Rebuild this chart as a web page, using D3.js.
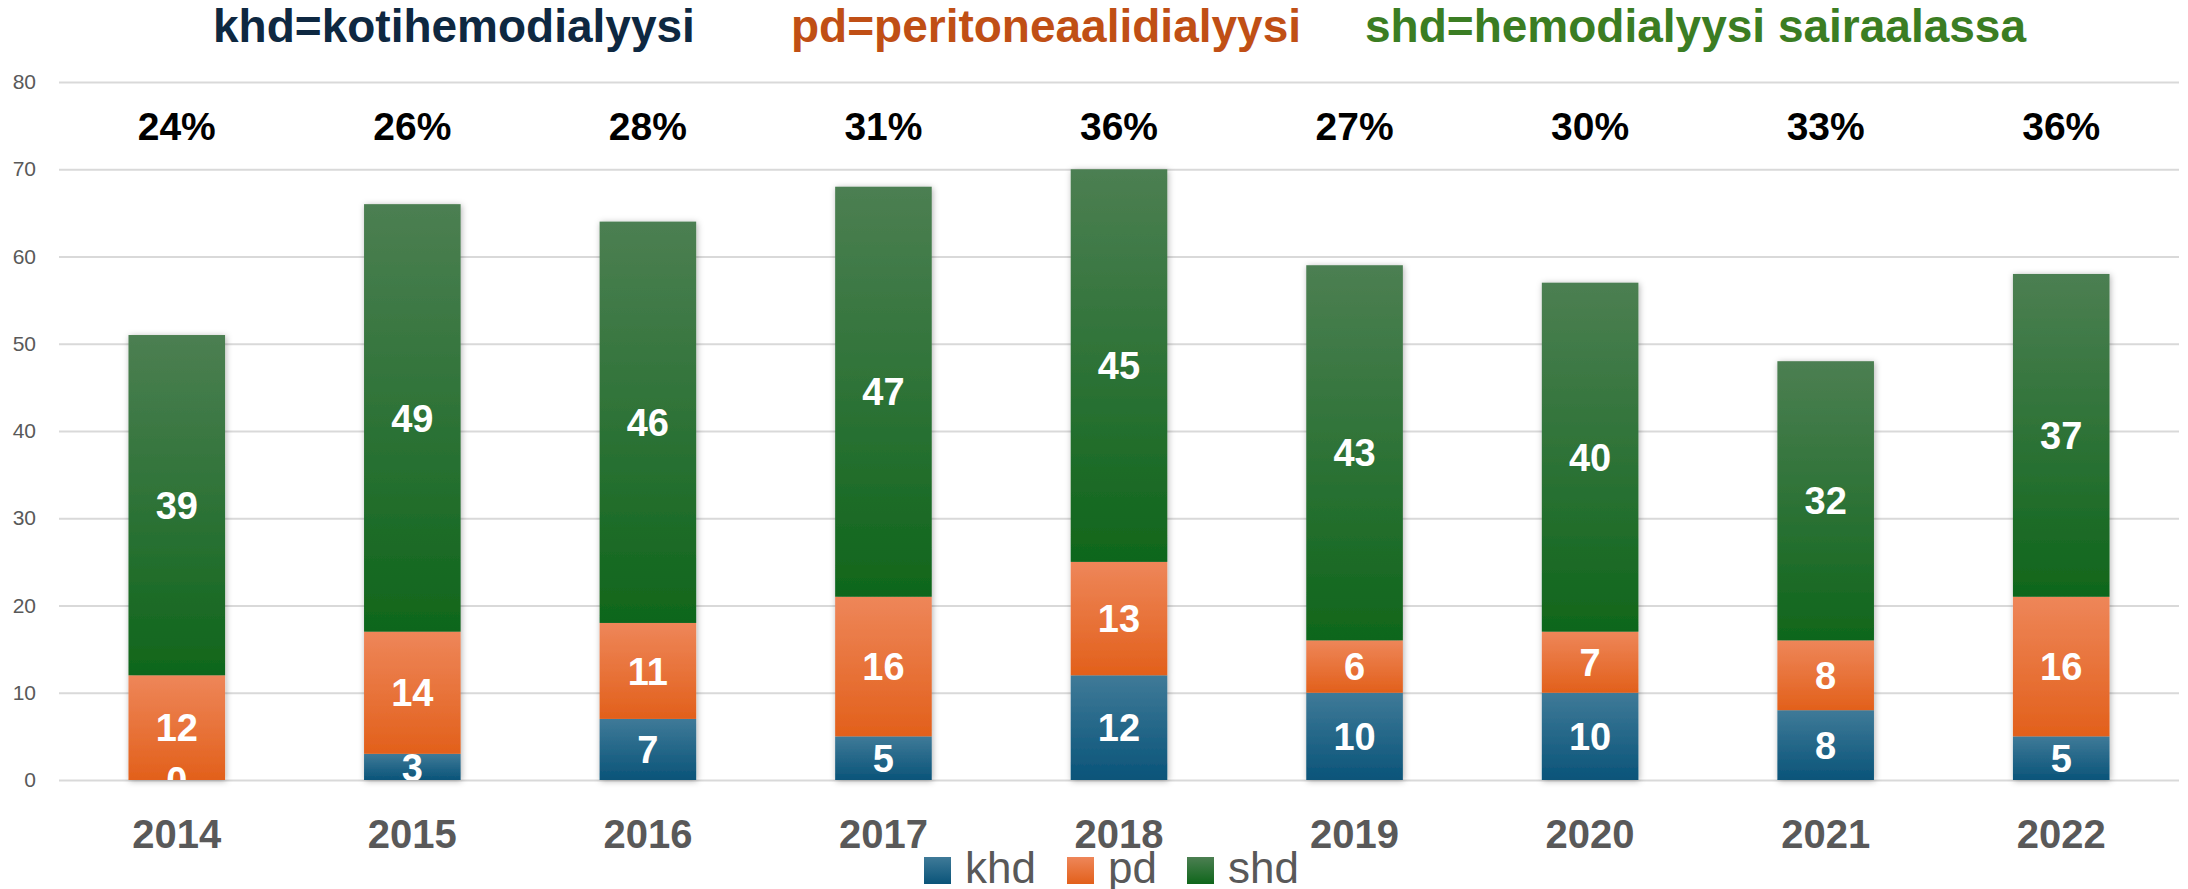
<!DOCTYPE html>
<html><head><meta charset="utf-8">
<script src="https://cdn.jsdelivr.net/npm/d3@7"></script>
<style>
html,body{margin:0;padding:0;background:#fff;}
svg{display:block;font-family:"Liberation Sans",Arial,sans-serif;}
</style></head>
<body>
<svg id="chart" width="2188" height="889"></svg>
<script>
const years = ["2014","2015","2016","2017","2018","2019","2020","2021","2022"];
const khd = [0,3,7,5,12,10,10,8,5];
const pd  = [12,14,11,16,13,6,7,8,16];
const shd = [39,49,46,47,45,43,40,32,37];
const shareLabels = ["24%","26%","28%","31%","36%","27%","30%","33%","36%"];
const yTicks = [0,10,20,30,40,50,60,70,80];
const seriesKeys = ["khd","pd","shd"];
const titles = [
  {text:"khd=kotihemodialyysi", color:"#0e2841"},
  {text:"pd=peritoneaalidialyysi", color:"#c04f15"},
  {text:"shd=hemodialyysi sairaalassa", color:"#3b7d23"}
];
const colors = {
  khd:{top:"#3f7a98", bottom:"#0a5479"},
  pd:{top:"#ee8659", bottom:"#e2601b"},
  shd:{top:"#4c7f52", bottom:"#0f661b"}
};

const svg = d3.select("#chart");
const W = 2188, H = 889;
const plot = {left:59, right:2179, top:82, bottom:780};

const rows = years.map((y,i)=>({year:y, khd:khd[i], pd:pd[i], shd:shd[i]}));
const stacked = d3.stack().keys(seriesKeys)(rows);

const x = d3.scaleBand().domain(years).range([plot.left, plot.right]).paddingInner(0.59).paddingOuter(0.295);
const y = d3.scaleLinear().domain([0,80]).range([plot.bottom, plot.top]);

const defs = svg.append("defs");
seriesKeys.forEach(k=>{
  const g = defs.append("linearGradient").attr("id","grad-"+k)
    .attr("x1",0).attr("y1",0).attr("x2",0).attr("y2",1);
  g.append("stop").attr("offset","0%").attr("stop-color",colors[k].top);
  g.append("stop").attr("offset","100%").attr("stop-color",colors[k].bottom);
});
const f = defs.append("filter").attr("id","shadow").attr("x","-20%").attr("y","-10%").attr("width","140%").attr("height","120%");
f.append("feDropShadow").attr("dx",1).attr("dy",1).attr("stdDeviation",3).attr("flood-color","#000").attr("flood-opacity",0.3);
defs.append("clipPath").attr("id","plotclip").append("rect")
  .attr("x",0).attr("y",0).attr("width",W).attr("height",plot.bottom);

// titles
const titleX = [213, 791, 1365];
svg.append("g").selectAll("text").data(titles).join("text")
  .attr("x",(d,i)=>titleX[i]).attr("y",42)
  .attr("fill",d=>d.color).attr("font-size",46).attr("font-weight","bold")
  .text(d=>d.text);

// y axis with gridlines
const yAxis = svg.append("g").attr("transform",`translate(${plot.left},0)`)
  .call(d3.axisLeft(y).tickValues(yTicks).tickSize(-(plot.right-plot.left)).tickPadding(23));
yAxis.select(".domain").remove();
yAxis.selectAll(".tick line").attr("stroke","#d9d9d9").attr("stroke-width",2);
yAxis.selectAll(".tick text").attr("fill","#595959").attr("font-size",21)
  .attr("font-family","'Liberation Sans',Arial,sans-serif");

// bars
const barG = svg.append("g").attr("filter","url(#shadow)");
stacked.forEach(s=>{
  barG.append("g").selectAll("rect").data(s).join("rect")
    .attr("x",d=>x(d.data.year)).attr("width",x.bandwidth())
    .attr("y",d=>y(d[1])).attr("height",d=>y(d[0])-y(d[1]))
    .attr("fill","url(#grad-"+s.key+")");
});

// data labels
const lblG = svg.append("g").attr("clip-path","url(#plotclip)");
stacked.forEach(s=>{
  lblG.append("g").selectAll("text").data(s).join("text")
    .attr("x",d=>x(d.data.year)+x.bandwidth()/2)
    .attr("y",d=>y((d[0]+d[1])/2))
    .attr("dy","0.36em")
    .attr("text-anchor","middle").attr("fill","#fff")
    .attr("font-size",38).attr("font-weight","bold")
    .text(d=>d.data[s.key]);
});

// percentage labels
svg.append("g").selectAll("text").data(years).join("text")
  .attr("x",d=>x(d)+x.bandwidth()/2).attr("y",140)
  .attr("text-anchor","middle").attr("fill","#000")
  .attr("font-size",39).attr("font-weight","bold")
  .text((d,i)=>shareLabels[i]);

// x axis labels
svg.append("g").selectAll("text").data(years).join("text")
  .attr("x",d=>x(d)+x.bandwidth()/2).attr("y",848)
  .attr("text-anchor","middle").attr("fill","#595959")
  .attr("font-size",40).attr("font-weight","bold")
  .text(d=>d);

// legend
const legendX = [924, 1067, 1187];
const lg = svg.append("g").selectAll("g").data(seriesKeys).join("g")
  .attr("transform",(d,i)=>`translate(${legendX[i]},857)`);
lg.append("rect").attr("width",27).attr("height",27).attr("fill",d=>"url(#grad-"+d+")");
lg.append("text").attr("x",41).attr("y",26).attr("fill","#595959").attr("font-size",44).text(d=>d);
</script>
</body></html>
